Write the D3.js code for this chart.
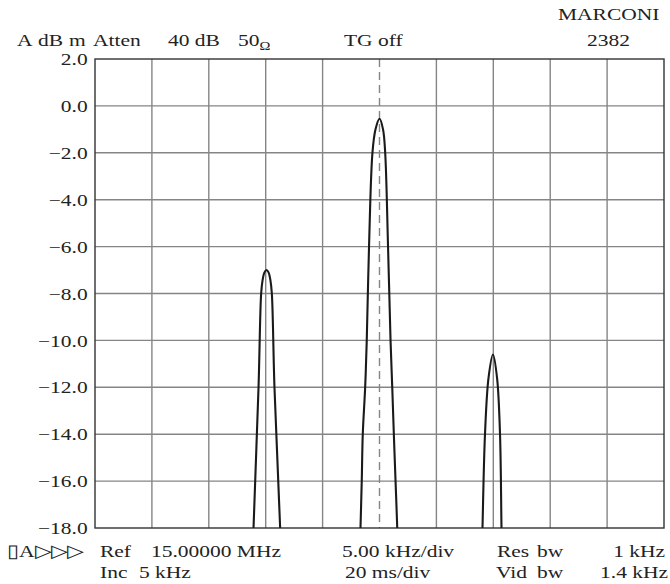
<!DOCTYPE html>
<html>
<head>
<meta charset="utf-8">
<script src="https://cdn.jsdelivr.net/npm/d3@7"></script>
<style>
  html, body { margin: 0; padding: 0; background: #fff; }
  svg text { font-family: "Liberation Serif", "Times New Roman", serif; fill: #222; }
</style>
</head>
<body>
<svg id="chart" width="670" height="584"></svg>
<script>
// Spectrum analyser display: level (dBm) against frequency offset from 15.00000 MHz (kHz)
const levelTicks = [2, 0, -2, -4, -6, -8, -10, -12, -14, -16, -18];
const freqDivisions = [-25, -20, -15, -10, -5, 0, 5, 10, 15, 20, 25];

// Trace points for each spectral line: offset in kHz, level in dBm
const lowerOffset = [-11.11, -11.07, -10.63, -10.40, -10.28, -10.11, -9.93, -9.75, -9.58, -9.46, -9.23, -8.73, -8.70];
const lowerLevel  = [-19.0, -18.0, -12.0, -8.0, -7.45, -7.1, -7.0, -7.1, -7.45, -8.0, -12.0, -18.0, -19.0];

const carrierOffset = [-1.71, -1.67, -1.56, -1.47, -1.26, -1.12, -0.92, -0.62, -0.35, 0.0, 0.31, 0.50, 0.75, 0.97, 1.12, 1.26, 1.41, 1.56, 1.61];
const carrierLevel  = [-19.0, -18.0, -16.0, -14.0, -12.0, -10.0, -6.0, -2.0, -1.0, -0.55, -1.0, -2.0, -6.0, -10.0, -12.0, -14.0, -16.0, -18.0, -19.0];

const upperOffset = [9.00, 9.05, 9.27, 9.58, 9.97, 10.33, 10.59, 10.72, 10.76];
const upperLevel  = [-19.0, -18.0, -14.0, -11.6, -10.6, -11.6, -14.0, -18.0, -19.0];

// Screen annotations
const headerItems = [
  { text: "A", x: 17, y: 46 },
  { text: "dB", x: 38, y: 46 },
  { text: "m", x: 69, y: 46 },
  { text: "Atten", x: 93, y: 46 },
  { text: "40 dB", x: 168, y: 46 },
  { text: "TG off", x: 344, y: 46 },
  { text: "MARCONI", x: 558, y: 20 },
  { text: "2382", x: 587, y: 46 }
];
const footerItems = [
  { text: "▯A▷▷▷", x: 7, y: 557 },
  { text: "Ref", x: 100, y: 557 },
  { text: "15.00000 MHz", x: 151, y: 557 },
  { text: "5.00 kHz/div", x: 342, y: 557 },
  { text: "Res", x: 497, y: 557 },
  { text: "bw", x: 537, y: 557 },
  { text: "1 kHz", x: 665, y: 557, anchor: "end" },
  { text: "Inc", x: 100, y: 578 },
  { text: "5 kHz", x: 139, y: 578 },
  { text: "20 ms/div", x: 345, y: 578 },
  { text: "Vid", x: 496, y: 578 },
  { text: "bw", x: 537, y: 578 },
  { text: "1.4 kHz", x: 668, y: 578, anchor: "end" }
];

const svg = d3.select("#chart");
const margin = { left: 95, right: 6, top: 59, bottom: 56 };
const W = 670, H = 584;
const x = d3.scaleLinear().domain([-25, 25]).range([margin.left, W - margin.right]);
const y = d3.scaleLinear().domain([-18, 2]).range([H - margin.bottom, margin.top]);

const gridColor = "#858585";
const fontSize = 17.6;
const widen = 1.22;   // the display font is drawn wide

// vertical graticule
svg.append("g").selectAll("line").data(freqDivisions.filter(d => d !== 0 && Math.abs(d) !== 25)).join("line")
  .attr("x1", d => x(d)).attr("x2", d => x(d))
  .attr("y1", y(2)).attr("y2", y(-18))
  .attr("stroke", gridColor).attr("stroke-width", 1.4);

// centre frequency marker
svg.append("line")
  .attr("x1", x(0)).attr("x2", x(0)).attr("y1", y(2)).attr("y2", y(-18))
  .attr("stroke", gridColor).attr("stroke-width", 1.4).attr("stroke-dasharray", "8,5");

// horizontal graticule
svg.append("g").selectAll("line").data(levelTicks.filter(d => d !== 2 && d !== -18)).join("line")
  .attr("x1", x(-25)).attr("x2", x(25))
  .attr("y1", d => y(d)).attr("y2", d => y(d))
  .attr("stroke", gridColor).attr("stroke-width", 1.4);

// frame
svg.append("rect")
  .attr("x", x(-25)).attr("y", y(2))
  .attr("width", x(25) - x(-25)).attr("height", y(-18) - y(2))
  .attr("fill", "none").attr("stroke", "#333").attr("stroke-width", 1.4);

// level axis labels
const yAxis = d3.axisLeft(y).tickValues(levelTicks).tickFormat(d3.format(".1f")).tickSize(0).tickPadding(6);
const yg = svg.append("g").attr("transform", `translate(${x(-25)},0)`).call(yAxis);
yg.select(".domain").remove();
yg.selectAll("text")
  .attr("font-size", fontSize).attr("font-family", "Liberation Serif, serif").attr("fill", "#222")
  .attr("transform", `scale(${widen},1)`);

// traces
svg.append("clipPath").attr("id", "plot-clip").append("rect")
  .attr("x", x(-25)).attr("y", y(2))
  .attr("width", x(25) - x(-25)).attr("height", y(-18) - y(2));

const line = d3.line().x(d => x(d[0])).y(d => y(d[1])).curve(d3.curveCatmullRom.alpha(0.5));
const traces = [
  d3.zip(lowerOffset, lowerLevel),
  d3.zip(carrierOffset, carrierLevel),
  d3.zip(upperOffset, upperLevel)
];
svg.append("g").attr("clip-path", "url(#plot-clip)")
  .selectAll("path").data(traces).join("path")
  .attr("d", line)
  .attr("fill", "none").attr("stroke", "#1a1a1a").attr("stroke-width", 2.1);

// annotation text
svg.append("g").selectAll("text").data(headerItems.concat(footerItems)).join("text")
  .attr("transform", d => `translate(${d.x},${d.y}) scale(${widen},1)`)
  .attr("font-size", fontSize)
  .attr("text-anchor", d => d.anchor || "start")
  .text(d => d.text);

const ohm = svg.append("text")
  .attr("transform", `translate(238,46) scale(${widen},1)`)
  .attr("font-size", fontSize);
ohm.append("tspan").text("50");
ohm.append("tspan").attr("font-size", 12).attr("dy", 4).text("Ω");
</script>
</body>
</html>
